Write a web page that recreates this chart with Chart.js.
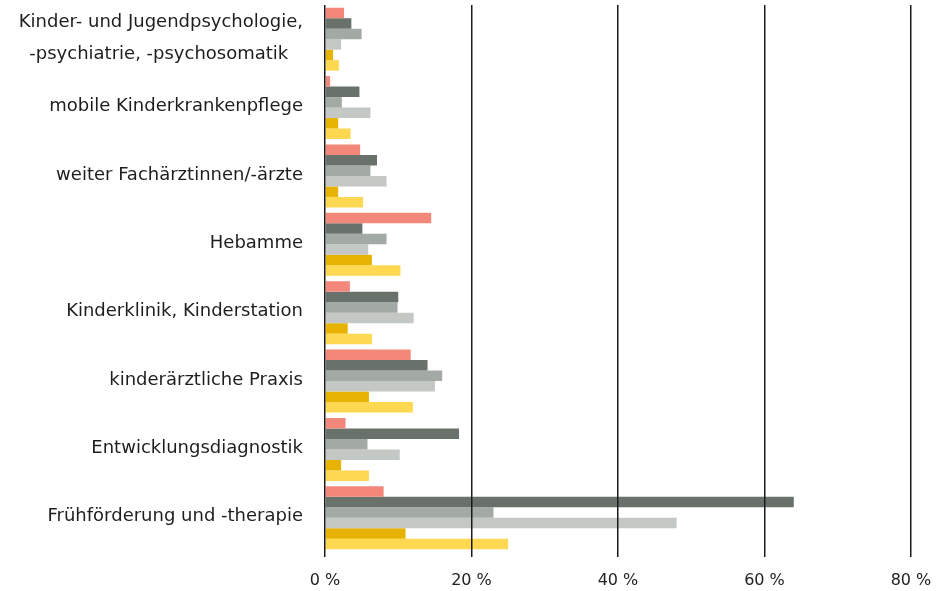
<!DOCTYPE html>
<html lang="de">
<head>
<meta charset="utf-8">
<title>Anteile nach Einrichtung</title>
<script src="https://cdn.jsdelivr.net/npm/chart.js@4/dist/chart.umd.min.js"></script>
<style>
  html, body { margin: 0; padding: 0; background: #fff; }
  #wrap { width: 940px; height: 591px; }
</style>
</head>
<body>
<div id="wrap"><canvas id="angeboteChart"></canvas></div>
<script>
// Kategorien (von oben nach unten)
const kategorien = [
    ['Kinder- und Jugendpsychologie,', '-psychiatrie, -psychosomatik\u2002 '],
    'mobile Kinderkrankenpflege',
    'weiter Fachärztinnen/-ärzte',
    'Hebamme',
    'Kinderklinik, Kinderstation',
    'kinderärztliche Praxis',
    'Entwicklungsdiagnostik',
    'Frühförderung und -therapie'
];

// Werte in Prozent, je Gruppe
const gruppe1 = [2.6, 0.7, 4.8, 14.5, 3.4, 11.7, 2.8, 8.0];
const gruppe2 = [3.6, 4.7, 7.1, 5.1, 10.0, 14.0, 18.3, 64.0];
const gruppe3 = [5.0, 2.3, 6.2, 8.4, 9.9, 16.0, 5.8, 23.0];
const gruppe4 = [2.2, 6.2, 8.4, 5.9, 12.1, 15.0, 10.2, 48.0];
const gruppe5 = [1.1, 1.8, 1.8, 6.4, 3.1, 6.0, 2.2, 11.0];
const gruppe6 = [1.9, 3.5, 5.2, 10.3, 6.4, 12.0, 6.0, 25.0];

const achsenTicks = [0, 20, 40, 60, 80];

const farben = ['#f2877a', '#68726a', '#a3aaa5', '#c3c8c5', '#e8b300', '#ffd852'];
const reihen = [gruppe1, gruppe2, gruppe3, gruppe4, gruppe5, gruppe6];

const ctx = document.getElementById('angeboteChart').getContext('2d');
const angeboteChart = new Chart(ctx, {
    type: 'bar',
    data: {
        labels: kategorien,
        datasets: reihen.map((werte, i) => ({
            label: 'Gruppe ' + (i + 1),
            data: werte,
            backgroundColor: farben[i],
            borderWidth: 0,
            barPercentage: 1.0,
            categoryPercentage: 0.92
        }))
    },
    options: {
        indexAxis: 'y',
        responsive: true,
        maintainAspectRatio: false,
        animation: false,
        layout: {
            padding: { left: 10, right: 29, top: 5, bottom: 2 }
        },
        plugins: {
            legend: { display: false },
            tooltip: { enabled: false }
        },
        scales: {
            x: {
                min: 0,
                max: 80,
                afterBuildTicks: (axis) => {
                    axis.ticks = achsenTicks.map(v => ({ value: v }));
                },
                afterFit: (scale) => {
                    scale.height = 37;
                    scale.paddingLeft = 0;
                    scale.paddingRight = 0;
                },
                ticks: {
                    color: '#222',
                    padding: 14,
                    font: { family: 'DejaVu Sans', size: 16 },
                    callback: (v) => v + ' %'
                },
                grid: {
                    color: '#1a1a1a',
                    lineWidth: 1.5,
                    tickLength: 5,
                    z: 1
                },
                border: { display: false }
            },
            y: {
                // feste Breite der Beschriftungsspalte, kein Überstand oben/unten
                afterFit: (scale) => {
                    scale.width = 315;
                    scale.paddingTop = 0;
                    scale.paddingBottom = 0;
                },
                ticks: {
                    color: '#1e1e1e',
                    padding: 22,
                    labelOffset: -1,
                    autoSkip: false,
                    font: { family: 'DejaVu Sans', size: 18, lineHeight: 1.78 }
                },
                grid: { display: false, drawTicks: false },
                border: { display: false }
            }
        }
    }
});
</script>
</body>
</html>
